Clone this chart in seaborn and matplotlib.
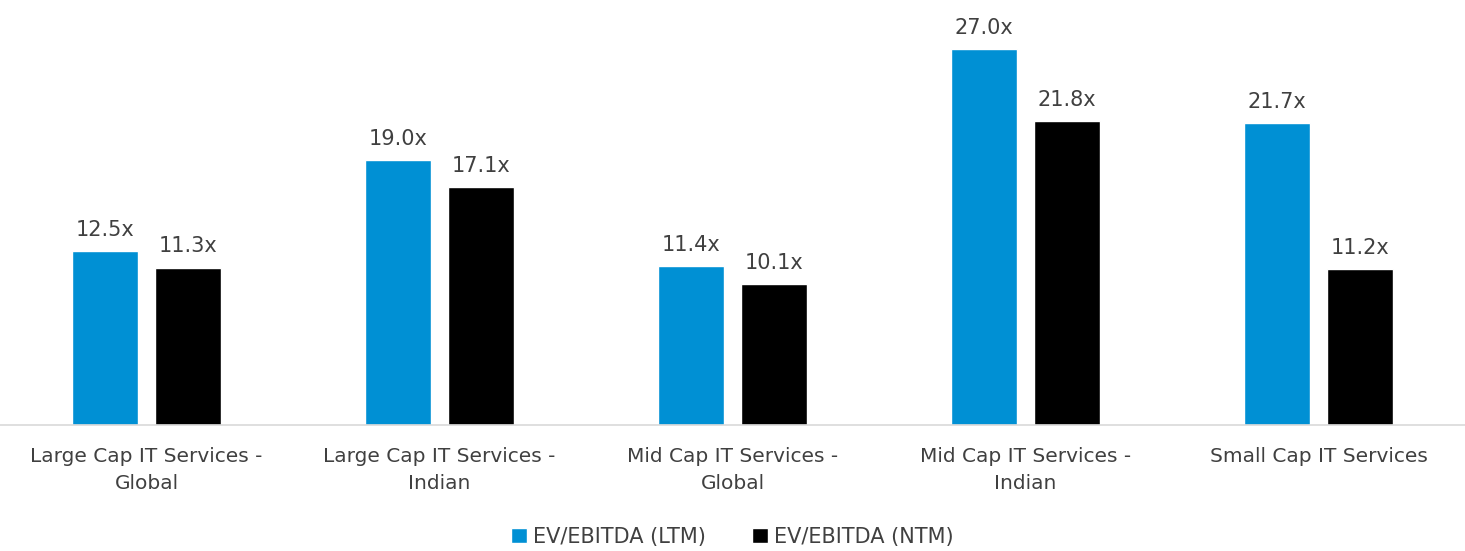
import matplotlib
matplotlib.use("Agg")
import matplotlib.pyplot as plt
import seaborn as sns
import pandas as pd

categories = ["Large Cap IT Services -\nGlobal", "Large Cap IT Services -\nIndian",
              "Mid Cap IT Services -\nGlobal", "Mid Cap IT Services -\nIndian",
              "Small Cap IT Services"]
series_names = ["EV/EBITDA (LTM)", "EV/EBITDA (NTM)"]
ltm = [12.5, 19.0, 11.4, 27.0, 21.7]
ntm = [11.3, 17.1, 10.1, 21.8, 11.2]

rows = []
for c, v in zip(categories, ltm):
    rows.append({"cat": c, "series": series_names[0], "val": v})
for c, v in zip(categories, ntm):
    rows.append({"cat": c, "series": series_names[1], "val": v})
df = pd.DataFrame(rows)

sns.set_style("white")
plt.rcParams['font.family'] = ['DejaVu Sans']
text_color = "#404040"

fig = plt.figure(figsize=(14.65, 5.51), dpi=100)
ax = fig.add_axes([0.0, 1 - 425/551, 1.0, (425 - 7)/551])
sns.barplot(data=df, x="cat", y="val", hue="series", order=categories,
            hue_order=series_names, palette=["#0090D4", "#000000"],
            width=0.567, gap=0.2, saturation=1, ax=ax, legend=True)
ax.set_ylim(0, 30)
ax.set_xlim(-0.5, 4.5)
for cont in ax.containers:
    ax.bar_label(cont, fmt="%.1fx", padding=8, fontsize=15, color=text_color)
ax.set_xlabel("")
ax.set_ylabel("")
ax.set_yticks([])
ax.tick_params(axis="x", length=0, labelsize=14.5, labelcolor=text_color, pad=16)
for lbl in ax.get_xticklabels():
    lbl.set_linespacing(1.5)
for s in ["top", "left", "right"]:
    ax.spines[s].set_visible(False)
ax.spines["bottom"].set_color("#d9d9d9")
ax.spines["bottom"].set_linewidth(1.2)

handles, labels = ax.get_legend_handles_labels()
ax.get_legend().remove()
fig.legend(handles, labels, loc="center", bbox_to_anchor=(0.5, 1 - 537/551),
           ncol=2, frameon=False, fontsize=15, labelcolor=text_color,
           handlelength=0.75, handleheight=0.75, handletextpad=0.3, columnspacing=2.2)

fig.savefig("out.png", dpi=100)
